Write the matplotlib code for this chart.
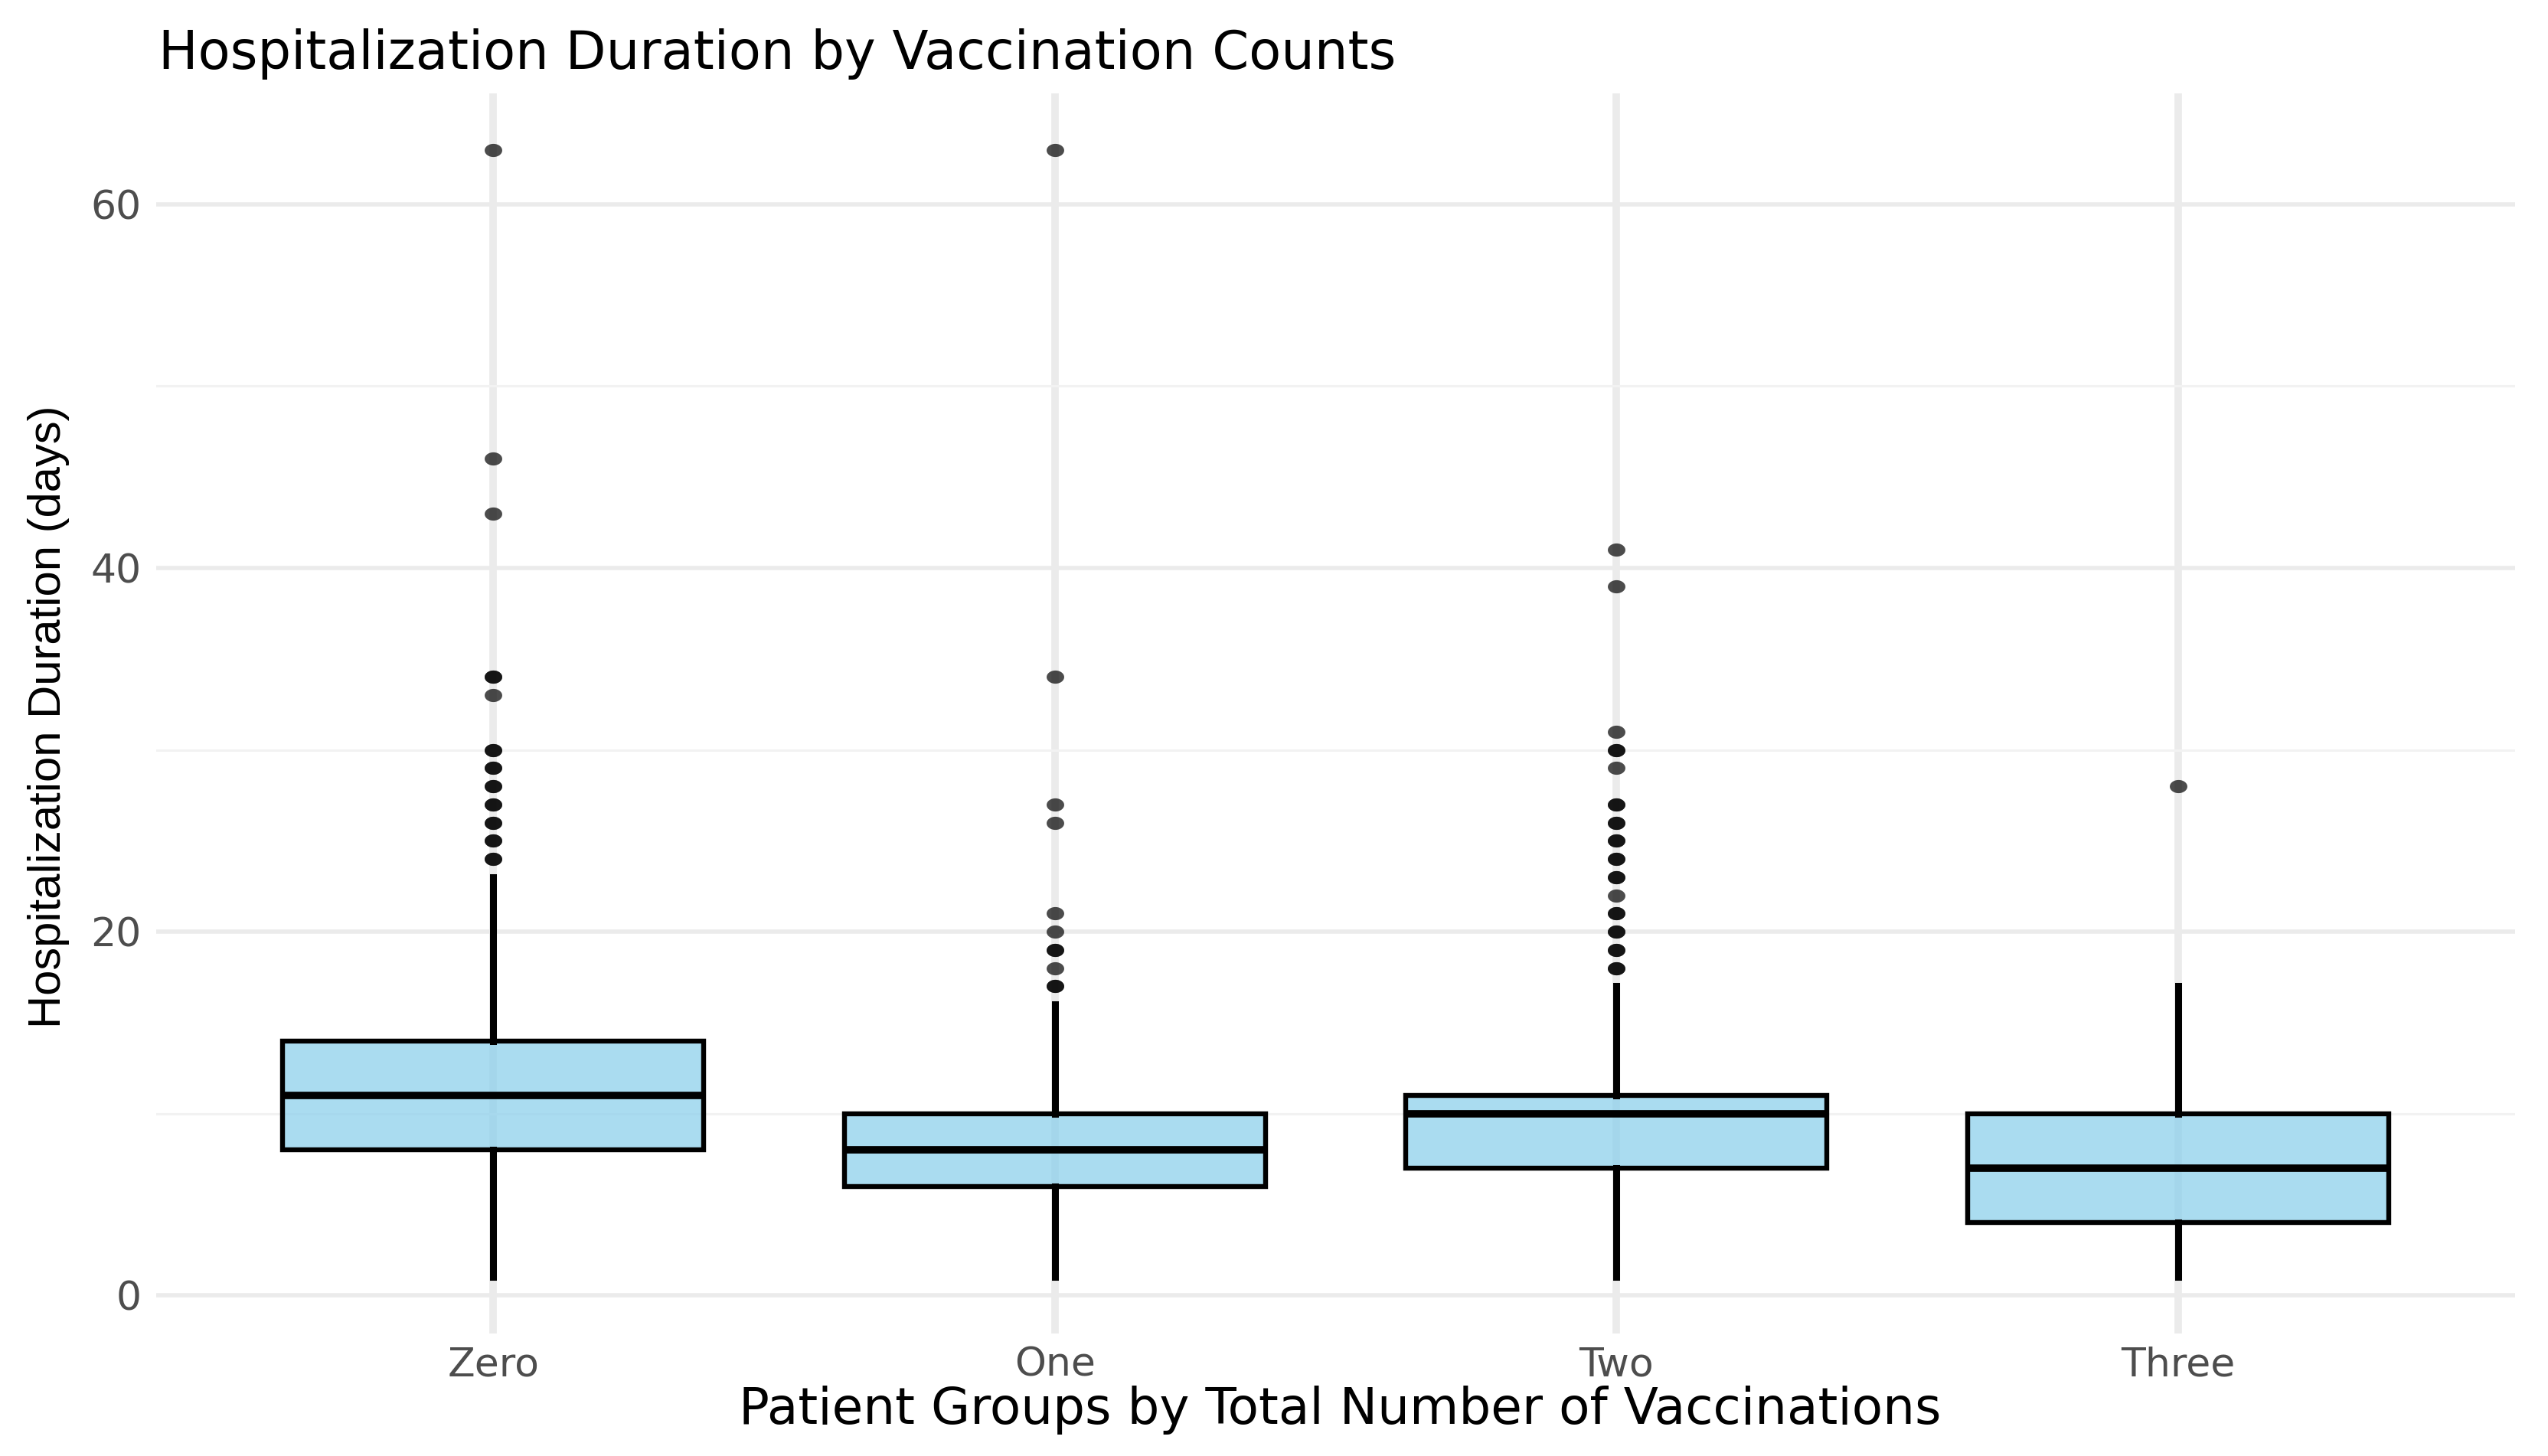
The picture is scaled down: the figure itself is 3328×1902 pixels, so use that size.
import numpy as np
import matplotlib
matplotlib.use("Agg")
import matplotlib.pyplot as plt
from matplotlib.path import Path

plt.rcParams['font.family'] = ['DejaVu Sans']

# gruppi e statistiche delle scatole (giorni)
groups = ["Zero", "One", "Two", "Three"]
whis_lo = [1, 1, 1, 1]
q1 = [8, 6, 7, 4]
medians = [11, 8, 10, 7]
q3 = [14, 10, 11, 10]
whis_hi = [23, 16, 17, 17]

# outlier (valori ripetuti = punti sovrapposti, piu' scuri)
fliers_zero = [24, 24, 25, 25, 26, 26, 27, 27, 28, 28, 29, 29, 30, 30, 33, 34, 34, 43, 46, 63]
fliers_one = [17, 17, 18, 19, 19, 20, 21, 26, 27, 34, 63]
fliers_two = [18, 18, 19, 19, 20, 20, 21, 21, 22, 23, 23, 24, 24, 25, 25, 26, 26, 27, 27,
              29, 30, 30, 31, 39, 41]
fliers_three = [28]
fliers = [fliers_zero, fliers_one, fliers_two, fliers_three]

y_ticks = [0, 20, 40, 60]
y_minor = [10, 30, 50]

stats = []
for i, g in enumerate(groups):
    stats.append(dict(label=g, whislo=whis_lo[i], q1=q1[i], med=medians[i],
                      q3=q3[i], whishi=whis_hi[i], fliers=fliers[i]))

# marker ellittico (punti un po' schiacciati come nell'originale)
t = np.linspace(0, 2 * np.pi, 60)
ellipse = Path(np.column_stack([np.cos(t), 0.75 * np.sin(t)]), closed=True)

fig = plt.figure(figsize=(33.28, 19.02), dpi=100)
ax = fig.add_axes([204 / 3328, 1 - 1742 / 1902, 3081 / 3328, 1620 / 1902])

ax.bxp(stats, positions=np.arange(1, len(groups) + 1), widths=0.75,
       patch_artist=True, showcaps=False,
       boxprops=dict(facecolor=(0.529, 0.808, 0.922, 0.7), edgecolor="black", linewidth=4.6),
       medianprops=dict(color="black", linewidth=7.0),
       whiskerprops=dict(color="black", linewidth=6.5),
       flierprops=dict(marker=ellipse, markersize=16.5, markerfacecolor="black",
                       markeredgecolor="none", alpha=0.7),
       zorder=3)

ax.set_xlim(0.4, 4.6)
ax.set_ylim(-2.1, 66.1)
ax.set_yticks(y_ticks)
ax.set_yticks(y_minor, minor=True)
ax.set_xticks(np.arange(1, len(groups) + 1))
ax.set_xticklabels(groups)

ax.xaxis.grid(True, which='major', color="#EBEBEB", linewidth=7.0, zorder=0)
ax.yaxis.grid(True, which='major', color="#EBEBEB", linewidth=4.0, zorder=0)
ax.yaxis.grid(True, which='minor', color="#F2F2F2", linewidth=2.2, zorder=0)
ax.set_axisbelow(True)
for s in ax.spines.values():
    s.set_visible(False)
ax.tick_params(axis='both', which='both', length=0, labelsize=37.5, labelcolor="#4D4D4D")
ax.tick_params(axis='x', pad=12)
ax.tick_params(axis='y', pad=14)

fig.text(207 / 3328, 1 - 90 / 1902, "Hospitalization Duration by Vaccination Counts",
         fontsize=49.5, ha='left', va='baseline')
fig.text(1750 / 3328, 1 - 1860 / 1902, "Patient Groups by Total Number of Vaccinations",
         fontsize=47.5, ha='center', va='baseline')
fig.text(64 / 3328, 1 - 936 / 1902, "Hospitalization Duration (days)",
         fontsize=43, ha='center', va='center', rotation=90,
         family=['Liberation Sans', 'DejaVu Sans'])

plt.savefig("out.png", dpi=100)
